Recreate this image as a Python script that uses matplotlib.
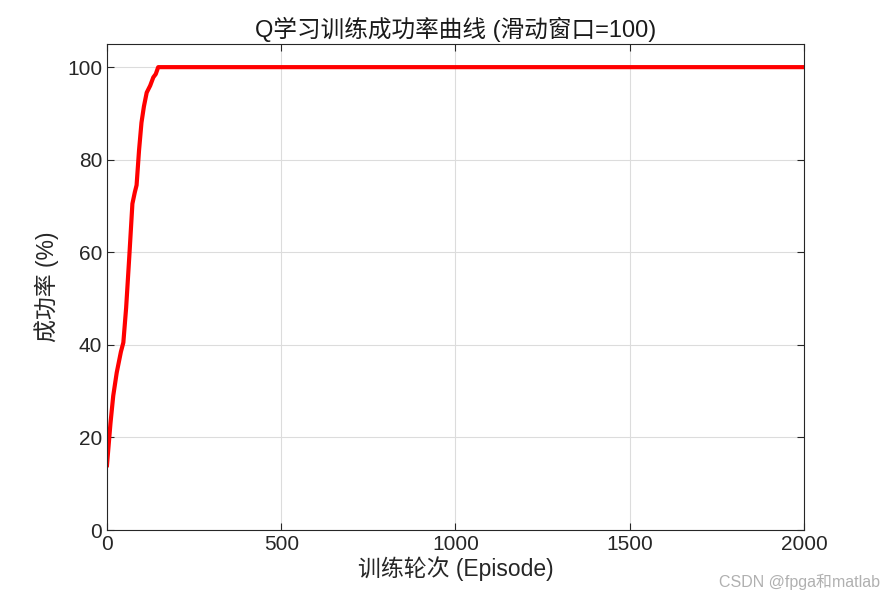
import matplotlib.pyplot as plt

# 滑动窗口成功率（从图中读取的关键点）
episodes = [0, 10, 18, 28, 40, 47, 55, 64, 73, 80, 85, 92, 99, 106, 114, 124, 133, 140, 147, 2000]
success_rate = [14.0, 23.0, 29.0, 34.0, 38.5, 40.5, 48.0, 59.0, 70.5, 73.0, 74.5, 82.0, 88.0, 91.5, 94.5, 96.0, 97.8, 98.5, 100.0, 100.0]

x_ticks = [0, 500, 1000, 1500, 2000]
y_ticks = [0, 20, 40, 60, 80, 100]

plt.rcParams["font.family"] = ["Liberation Sans", "Noto Sans CJK SC", "DejaVu Sans"]

fig = plt.figure(figsize=(8.84, 5.97), dpi=100)
ax = fig.add_axes([0.121, 0.1122, 0.7885, 0.8141])

ax.plot(episodes, success_rate, color="red", linewidth=3.0)

ax.set_xlim(0, 2000)
ax.set_ylim(0, 105)
ax.set_xticks(x_ticks)
ax.set_yticks(y_ticks)
ax.tick_params(direction="in", top=True, right=True, labelsize=15, length=5, width=0.8, colors="#262626")
ax.grid(True, color="#dcdcdc", linewidth=0.8)
for s in ax.spines.values():
    s.set_color("#262626")
    s.set_linewidth(0.8)

ax.set_title("Q学习训练成功率曲线 (滑动窗口=100)", fontsize=17, color="#1a1a1a", pad=5)
ax.set_xlabel("训练轮次 (Episode)", fontsize=16.5, color="#262626", labelpad=2)
ax.set_ylabel("成功率 (%)", fontsize=16.5, color="#262626", labelpad=6)

fig.text(0.995, 0.012, "CSDN @fpga和matlab", fontsize=11.5, color="#b0b0b0", ha="right", va="bottom")

fig.savefig("out.png", dpi=100)
